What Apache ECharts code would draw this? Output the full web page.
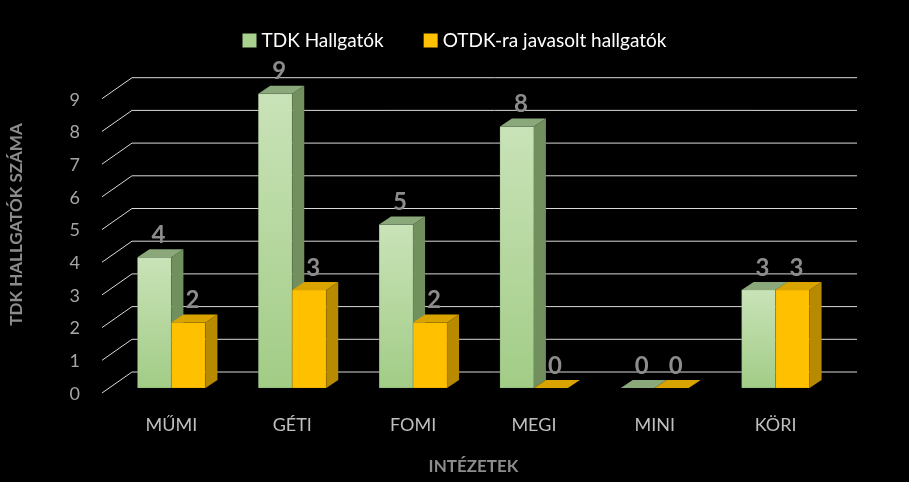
<!DOCTYPE html>
<html>
<head>
<meta charset="utf-8">
<script src="https://cdn.jsdelivr.net/npm/echarts@6/dist/echarts.min.js"></script>
<style>html,body{margin:0;background:#000;}#main{width:909px;height:482px;}</style>
</head>
<body>
<div id="main"></div>
<script>
var categories = ['MŰMI', 'GÉTI', 'FOMI', 'MEGI', 'MINI', 'KÖRI'];
var tdkValues = [4, 9, 5, 8, 0, 3];
var otdkValues = [2, 3, 2, 0, 0, 3];
var yTicks = [0, 1, 2, 3, 4, 5, 6, 7, 8, 9];

var chart = echarts.init(document.getElementById('main'));
var DX = 12, DY = -8, BW = 34;
var FONT = 'Lato, "Open Sans", sans-serif';

function barRenderer(side, colors) {
  return function (params, api) {
    var c = api.coord([api.value(0), api.value(1)]);
    var base = api.coord([api.value(0), 0]);
    var x0 = side === 0 ? c[0] - BW : c[0];
    var x1 = x0 + BW;
    var yt = c[1], yb = base[1];
    return {
      type: 'group',
      children: [
        { type: 'rect', shape: { x: x0, y: yt, width: BW, height: yb - yt },
          style: { fill: colors.front, stroke: 'rgba(0,0,0,0.25)', lineWidth: 0.5 } },
        { type: 'polygon', shape: { points: [[x1, yt], [x1 + DX, yt + DY], [x1 + DX, yb + DY], [x1, yb]] },
          style: { fill: colors.side } },
        { type: 'polygon', shape: { points: [[x0, yt], [x0 + DX, yt + DY], [x1 + DX, yt + DY], [x1, yt]] },
          style: { fill: colors.top } },
        { type: 'text', x: (x0 + x1) / 2 + 4, y: yt + DY - 2,
          style: { text: String(api.value(1)), fill: '#8c8c8c', font: 'bold 24px ' + FONT,
                   align: 'center', verticalAlign: 'bottom' } }
      ]
    };
  };
}

chart.setOption({
  backgroundColor: '#000',
  animation: false,
  legend: {
    top: 26, left: 'center', itemGap: 40, itemWidth: 14, itemHeight: 14, icon: 'rect',
    textStyle: { color: '#ffffff', fontSize: 19, fontFamily: FONT },
    data: [
      { name: 'TDK Hallgatók', itemStyle: { color: '#a9d18e' } },
      { name: 'OTDK-ra javasolt hallgatók', itemStyle: { color: '#ffc000' } }
    ]
  },
  grid: { left: 110, right: 73, top: 61, bottom: 94 },
  xAxis: {
    type: 'category', data: categories,
    axisLine: { show: false }, axisTick: { show: false },
    axisLabel: { color: '#bfbfbf', fontSize: 18, fontFamily: FONT, margin: 28 },
    name: 'INTÉZETEK', nameLocation: 'middle', nameGap: 70,
    nameTextStyle: { color: '#8c8c8c', fontSize: 17, fontWeight: 'bold', fontFamily: FONT }
  },
  yAxis: {
    type: 'value', min: 0, max: 10,
    axisLabel: { show: false }, splitLine: { show: false }, axisLine: { show: false },
    name: 'TDK HALLGATÓK SZÁMA', nameLocation: 'middle', nameGap: 86,
    nameTextStyle: { color: '#8c8c8c', fontSize: 17, fontWeight: 'bold', fontFamily: FONT }
  },
  series: [
    {
      type: 'custom', silent: true, z: 1,
      data: yTicks.map(function (v) { return [0, v]; }),
      renderItem: function (params, api) {
        var cs = params.coordSys;
        var y = api.coord([0, api.value(1)])[1];
        var xf = cs.x - 9, xb = cs.x + 21, xe = cs.x + cs.width + 21;
        return {
          type: 'group',
          children: [
            { type: 'polyline', shape: { points: [[xf, y + 5], [xb, y - 16], [xe, y - 16]] },
              style: { stroke: '#d9d9d9', lineWidth: 1, fill: null } },
            { type: 'text', x: 80, y: y + 6,
              style: { text: String(api.value(1)), fill: '#a6a6a6', font: '18px ' + FONT,
                       align: 'right', verticalAlign: 'middle' } }
          ]
        };
      }
    },
    {
      name: 'TDK Hallgatók', type: 'custom', z: 3,
      itemStyle: { color: '#a9d18e' },
      data: tdkValues.map(function (v, i) { return [i, v]; }),
      renderItem: barRenderer(0, {
        front: new echarts.graphic.LinearGradient(0, 0, 0, 1, [
          { offset: 0, color: '#c9e3b8' }, { offset: 1, color: '#a2cc86' }]),
        side: '#71905e', top: '#8aa879'
      })
    },
    {
      name: 'OTDK-ra javasolt hallgatók', type: 'custom', z: 4,
      itemStyle: { color: '#ffc000' },
      data: otdkValues.map(function (v, i) { return [i, v]; }),
      renderItem: barRenderer(1, { front: '#ffc000', side: '#b88a00', top: '#d9a300' })
    }
  ]
});
</script>
</body>
</html>
